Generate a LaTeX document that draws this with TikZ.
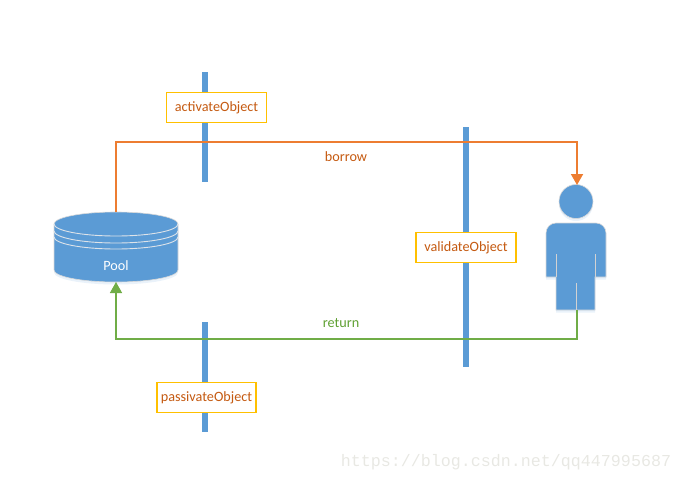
\documentclass[tikz,border=0pt]{standalone}
\usepackage{fontspec}
\setmainfont{Carlito}
\newfontfamily\markfont{Liberation Mono}
\usetikzlibrary{arrows.meta, positioning, shadows}
\definecolor{barblue}{HTML}{5B9BD5}
\definecolor{ringgray}{HTML}{DDE3E9}
\definecolor{boxyellow}{HTML}{FFC000}
\definecolor{labelbrown}{HTML}{C55A11}
\definecolor{lineorange}{HTML}{ED7D31}
\definecolor{linegreen}{HTML}{70AD47}
\definecolor{textgreen}{HTML}{5FA032}
\definecolor{markgray}{HTML}{E8E8E3}
\tikzset{
    barline/.style={fill=barblue, draw=none, minimum width=5.5pt, inner sep=0pt, outer sep=0pt},
    phasebox/.style={draw=boxyellow, fill=white, line width=1.2pt, text=labelbrown, font=\fontsize{14.2}{16}\selectfont, minimum height=30pt, inner sep=0pt, outer sep=0pt},
    hollow/.style={draw=none, inner sep=0pt, outer sep=0pt},
    softglow/.style={drop shadow={shadow xshift=0pt, shadow yshift=-2.5pt, fill=barblue, opacity=.13}},
    iconfill/.style={fill=barblue, draw=gray!30, line width=.6pt},
    ring/.style={draw=ringgray, line width=.9pt},
}
\begin{document}
\begin{tikzpicture}[x=1pt, y=-1pt]
    \useasboundingbox (0,0) rectangle (683,482);

    % Vertical bars
    \node[barline, minimum height=110pt] (activatebar) at (205,127) {};
    \node[barline, minimum height=240pt] (validatebar) at (466,247) {};
    \node[barline, minimum height=110pt] (passivatebar) at (205,377) {};

    % Phase labels
    \node[phasebox, minimum width=100pt] (activate) at (216.5,107.5) {activateObject};
    \node[phasebox, minimum width=100pt] (validate) at (466,247.5) {validateObject};
    \node[phasebox, minimum width=99pt] (passivate) at (206.5,397.5) {passivateObject};

    % Pool
    \node[hollow, minimum width=124pt, minimum height=70pt] (pool) at (116,247) {};
    \path[iconfill, softglow] (54,224) arc (180:360:62 and 12) -- (178,270) arc (0:180:62 and 12) -- cycle;
    \draw[ring] (54,224) arc (180:0:62 and 12);
    \draw[ring] (54,231) arc (180:0:62 and 12);
    \draw[ring] (54,237) arc (180:0:62 and 12);
    \node[white, font=\fontsize{14.2}{16}\selectfont] (poollabel) at (116,265.5) {Pool};

    % Person
    \node[hollow, minimum width=60pt, minimum height=125pt] (person) at (577,247.5) {};
    \path[iconfill, softglow] (576,201.5) circle (17);
    \path[iconfill, softglow] (546,277) -- (546,233) arc (180:270:10) -- (596,223) arc (270:360:10) -- (606,277) -- (595,277) -- (595,310) -- (556,310) -- (556,277) -- cycle;
    \draw[ring, draw=gray!35] (556,277) -- (556,254);
    \draw[ring, draw=gray!35] (595,277) -- (595,254);
    \draw[ring, draw=gray!35] (576,310) -- (576,283);

    % Borrow and return
    \coordinate (borrowcorner) at (116,142);
    \coordinate (returncorner) at (116,339);
    \draw[-{Triangle[width=12pt, length=11pt]}, lineorange, line width=1.8pt] (pool.north) -- (borrowcorner) -| (person.north);
    \draw[-{Triangle[width=12pt, length=11pt]}, linegreen, line width=1.5pt] (person.south) |- (returncorner) -- (pool.south);
    \node[text=labelbrown, font=\fontsize{14.2}{16}\selectfont] (borrow) at (346,157) {borrow};
    \node[text=textgreen, font=\fontsize{14.2}{16}\selectfont] (return) at (341,323) {return};

    % Watermark
    \node[text=markgray, font=\markfont\fontsize{16.67}{18}\selectfont, inner sep=0pt] (watermark) at (506,462) {https://blog.csdn.net/qq447995687};
\end{tikzpicture}
\end{document}
